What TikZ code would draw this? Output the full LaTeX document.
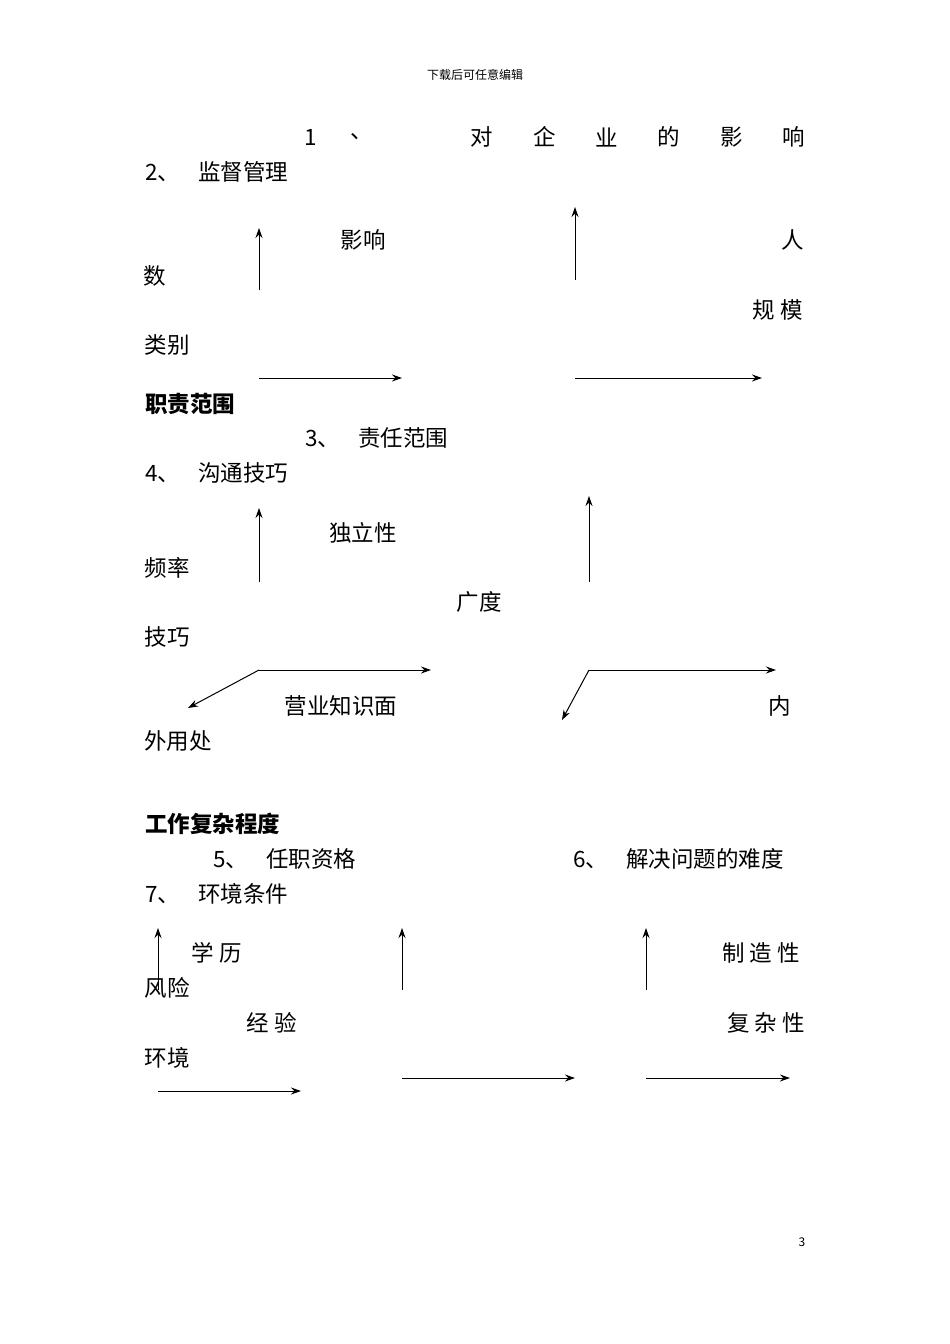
\documentclass[tikz,border=0pt]{standalone}
\usepackage{fontspec}
\setmainfont{Noto Sans CJK SC}
\usetikzlibrary{arrows.meta}
\newcommand{\gapsp}{\hspace{18pt}}
\begin{document}
\begin{tikzpicture}[x=1pt,y=-1pt,
  t/.style={inner sep=0pt,font=\fontsize{22.5}{26}\selectfont},
  tl/.style={t,anchor=west},
  b/.style={t,font=\fontsize{22.5}{26}\selectfont\bfseries},
  ar/.style={-{Stealth[length=10pt,width=7pt]},line width=1pt}]
\useasboundingbox[fill=white] (0,0) rectangle (950,1344);
\node[inner sep=0pt,font=\fontsize{12}{14}\selectfont] (hd) at (475,75) {下载后可任意编辑};
\foreach \x/\s [count=\i] in {311/1,362/、,482/对,545/企,607/业,669/的,732/影,794/响}
  \node[t] (h\i) at (\x,137) {\s};
\node[tl] (s2) at (145,172) {2、\gapsp 监督管理};
\node[t] (yx) at (363,240) {影响};
\node[t] (ren) at (793,240) {人};
\node[t] (shu) at (155,276) {数};
\node[t] (gm) at (778,310) {规\ 模};
\node[t] (lb) at (167,345) {类别};
\node[b,anchor=west] (zz) at (145,404) {职责范围};
\coordinate (a1s) at (259,290); \coordinate (a1e) at (259,228);
\coordinate (a2s) at (575,280); \coordinate (a2e) at (575,207);
\coordinate (a3s) at (259,378); \coordinate (a3e) at (402,378);
\coordinate (a4s) at (575,378); \coordinate (a4e) at (762,378);
\draw[ar] (a1s) -- (a1e); \draw[ar] (a2s) -- (a2e);
\draw[ar] (a3s) -- (a3e); \draw[ar] (a4s) -- (a4e);
\node[tl] (s3) at (305,438) {3、\gapsp 责任范围};
\node[tl] (s4) at (145,473) {4、\gapsp 沟通技巧};
\node[t] (dl) at (363,533) {独立性};
\node[t] (pl) at (167,568) {频率};
\node[t] (gd) at (479,602) {广度};
\node[t] (jq) at (167,637) {技巧};
\node[t] (yy) at (341,706) {营业知识面};
\node[t] (nei) at (780,706) {内};
\node[t] (wy) at (178,741) {外用处};
\coordinate (b1s) at (259,582); \coordinate (b1e) at (259,508);
\coordinate (b2s) at (589,582); \coordinate (b2e) at (589,496);
\coordinate (b3s) at (259,670); \coordinate (b3e) at (431,670); \coordinate (b3d) at (188,708);
\coordinate (b4s) at (589,670); \coordinate (b4e) at (776,670); \coordinate (b4d) at (562,720);
\draw[ar] (b1s) -- (b1e); \draw[ar] (b2s) -- (b2e);
\draw[ar] (b3s) -- (b3e); \draw[ar] (b3s) -- (b3d);
\draw[ar] (b4s) -- (b4e); \draw[ar] (b4s) -- (b4d);
\node[b,anchor=west] (gz) at (145,824) {工作复杂程度};
\node[tl] (s5) at (213,859) {5、\gapsp 任职资格};
\node[tl] (s6) at (573,859) {6、\gapsp 解决问题的难度};
\node[tl] (s7) at (145,894) {7、\gapsp 环境条件};
\node[t] (xl) at (217,953) {学\ 历};
\node[t] (zzx) at (761,953) {制\ 造\ 性};
\node[t] (fx) at (167,988) {风险};
\node[t] (jy) at (272,1023) {经\ 验};
\node[t] (fzx) at (766,1023) {复\ 杂\ 性};
\node[t] (hj) at (167,1058) {环境};
\coordinate (c1s) at (158,990); \coordinate (c1e) at (158,928);
\coordinate (c2s) at (402,990); \coordinate (c2e) at (402,928);
\coordinate (c3s) at (646,990); \coordinate (c3e) at (646,928);
\coordinate (c4s) at (158,1091); \coordinate (c4e) at (301,1091);
\coordinate (c5s) at (402,1078); \coordinate (c5e) at (575,1078);
\coordinate (c6s) at (646,1078); \coordinate (c6e) at (790,1078);
\foreach \i in {1,...,6} \draw[ar] (c\i s) -- (c\i e);
\node[inner sep=0pt,font=\fontsize{12}{14}\selectfont] (pg) at (802,1242) {3};
\end{tikzpicture}
\end{document}
